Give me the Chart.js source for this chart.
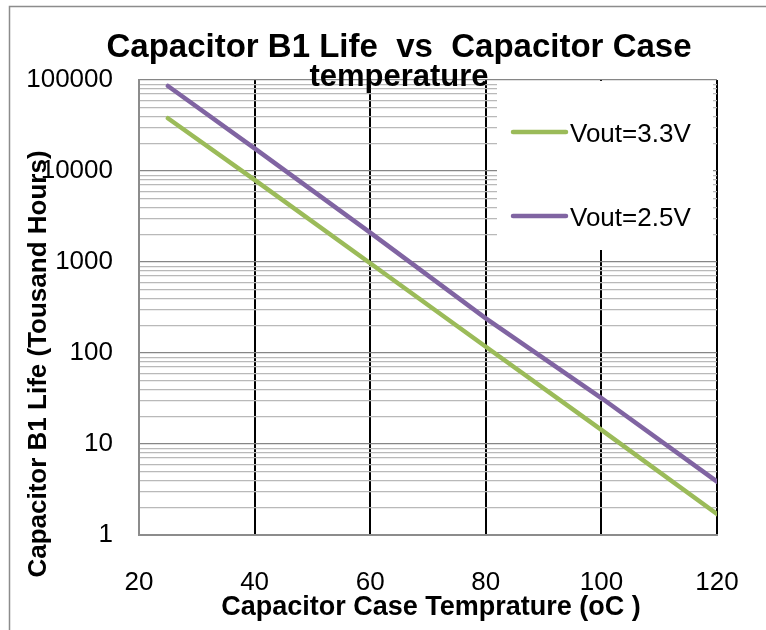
<!DOCTYPE html>
<html><head><meta charset="utf-8">
<script src="https://cdn.jsdelivr.net/npm/chart.js@4"></script>
<style>html,body{margin:0;padding:0;background:#fff;} canvas{display:block;}</style>
</head><body>
<canvas id="c" width="766" height="630"></canvas>
<script>
// ---- data ----
const temperatures = [25, 40, 60, 80, 100, 120];
const life33 = [38000, 8000, 970, 117, 14.3, 1.7];
const life25 = [86000, 17700, 2100, 240, 32, 3.86];
const seriesNames = ['Vout=3.3V', 'Vout=2.5V'];
const seriesColors = ['#9BBB59', '#8064A2'];
const xTicks = [20, 40, 60, 80, 100, 120];
const yTicks = [1, 10, 100, 1000, 10000, 100000];
const titleLines = ['Capacitor B1 Life  vs  Capacitor Case', 'temperature'];
const xTitle = 'Capacitor Case Temprature (oC )';
const yTitle = 'Capacitor B1 Life (Tousand Hours)';

const FONT = '"Liberation Sans", Arial, Helvetica, sans-serif';
Chart.defaults.font.family = FONT;
Chart.defaults.color = '#000';

function isDecade(v) {
  const l = Math.log10(v);
  return Math.abs(l - Math.round(l)) < 1e-9;
}

const framePlugin = {
  id: 'frame',
  beforeDraw(chart) {
    const ctx = chart.ctx;
    ctx.save();
    ctx.fillStyle = '#fff';
    ctx.fillRect(0, 0, chart.width, chart.height);
    ctx.strokeStyle = '#8c8c8c';
    ctx.lineWidth = 1.5;
    ctx.strokeRect(9.5, 6.5, 900, 900);
    ctx.restore();
  }
};

const overlayPlugin = {
  id: 'overlay',
  afterDraw(chart) {
    const ctx = chart.ctx;
    const area = chart.chartArea;
    ctx.save();
    // legend box (white, sits over the gridlines, leaves the right plot edge visible)
    ctx.fillStyle = '#fff';
    ctx.fillRect(497, 81, area.right - 4 - 497, 169);
    const rows = [132, 216];
    chart.data.datasets.forEach((ds, i) => {
      const y = rows[i];
      ctx.strokeStyle = ds.borderColor;
      ctx.lineWidth = 4.5;
      ctx.lineCap = 'round';
      ctx.beginPath();
      ctx.moveTo(513, y);
      ctx.lineTo(566, y);
      ctx.stroke();
      ctx.fillStyle = '#000';
      ctx.font = '26px ' + FONT;
      ctx.textAlign = 'left';
      ctx.textBaseline = 'alphabetic';
      ctx.fillText(ds.label, 570, y + 9.5);
    });
    // title
    ctx.fillStyle = '#000';
    ctx.font = 'bold 33px ' + FONT;
    ctx.textAlign = 'center';
    ctx.textBaseline = 'alphabetic';
    ctx.fillText(titleLines[0], 399, 57);
    ctx.font = 'bold 31px ' + FONT;
    ctx.fillText(titleLines[1], 399, 86);
    // y axis title
    ctx.save();
    ctx.translate(39, 364);
    ctx.rotate(-Math.PI / 2);
    ctx.font = 'bold 26px ' + FONT;
    ctx.textAlign = 'center';
    ctx.textBaseline = 'middle';
    ctx.fillText(yTitle, 0, 0);
    ctx.restore();
    // x axis title
    ctx.font = 'bold 27px ' + FONT;
    ctx.textAlign = 'center';
    ctx.textBaseline = 'middle';
    ctx.fillText(xTitle, 431, 608);
    ctx.restore();
  }
};

new Chart(document.getElementById('c'), {
  type: 'line',
  data: {
    datasets: [
      { label: seriesNames[0], data: temperatures.map((t, i) => ({x: t, y: life33[i]})),
        borderColor: seriesColors[0], borderWidth: 4.5, pointRadius: 0, borderCapStyle: 'round', fill: false, tension: 0 },
      { label: seriesNames[1], data: temperatures.map((t, i) => ({x: t, y: life25[i]})),
        borderColor: seriesColors[1], borderWidth: 4.5, pointRadius: 0, borderCapStyle: 'round', fill: false, tension: 0 }
    ]
  },
  options: {
    responsive: false,
    animation: false,
    devicePixelRatio: 1,
    layout: { padding: { left: 23, right: 49, top: 80, bottom: 6 } },
    plugins: { legend: { display: false }, title: { display: false }, tooltip: { enabled: false } },
    scales: {
      x: {
        type: 'linear', min: xTicks[0], max: xTicks[xTicks.length - 1],
        afterBuildTicks: s => { s.ticks = xTicks.map(v => ({ value: v })); },
        grid: { color: c => (c.tick && c.tick.value === xTicks[0]) ? 'rgba(0,0,0,0)' : '#000', lineWidth: 2, drawTicks: false },
        border: { color: '#8c8c8c', width: 2 },
        ticks: { padding: 32, font: { size: 26 }, color: '#000', maxRotation: 0, autoSkip: false },
        title: { display: false },
        afterFit: s => { s.height = 89; s.paddingLeft = 0; s.paddingRight = 0; }
      },
      y: {
        type: 'logarithmic', min: yTicks[0], max: yTicks[yTicks.length - 1],
        afterBuildTicks: s => {
          const t = [];
          for (let k = 0; k < yTicks.length - 1; k++) {
            for (let m = 1; m <= 9; m++) t.push({ value: m * yTicks[k] });
          }
          t.push({ value: yTicks[yTicks.length - 1] });
          s.ticks = t;
        },
        grid: { color: c => (c.tick && isDecade(c.tick.value)) ? '#868686' : '#b9b9b9', lineWidth: 1.3, drawTicks: false },
        border: { color: '#8c8c8c', width: 2 },
        ticks: { padding: 26, font: { size: 26 }, color: '#000', autoSkip: false,
                 callback: v => yTicks.includes(v) ? String(v) : '' },
        title: { display: false },
        afterFit: s => { s.width = 116; s.paddingTop = 0; s.paddingBottom = 0; }
      }
    }
  },
  plugins: [framePlugin, overlayPlugin]
});
</script>
</body></html>
